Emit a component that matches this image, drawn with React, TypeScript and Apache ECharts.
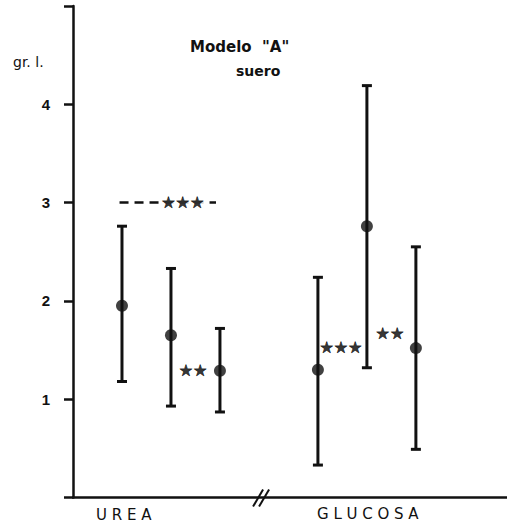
import React, { useEffect, useRef } from "react";
import * as echarts from "echarts";

// ---- data ----
const groups = ["U R E A", "G L U C O S A"];
const xPos = [1, 2, 3, 5, 6, 7];
const means = [1.95, 1.65, 1.29, 1.3, 2.76, 1.52];
const upper = [2.76, 2.33, 1.72, 2.24, 4.19, 2.55];
const lower = [1.18, 0.93, 0.87, 0.33, 1.32, 0.49];
const yTicks = [1, 2, 3, 4];
const sigLine = [[0.95, 3], [2.92, 3]];
const sigMarks = [
  { x: 2.24, y: 3.0, text: "★★★" },
  { x: 2.45, y: 1.29, text: "★★" },
  { x: 5.47, y: 1.53, text: "★★★" },
  { x: 6.47, y: 1.67, text: "★★" },
];
const breakAt = 3.86;

export default function App() {
  const ref = useRef<HTMLDivElement>(null);
  useEffect(() => {
    if (!ref.current) return;
    const chart = echarts.init(ref.current, null, { renderer: "svg" });
    const font = "'DejaVu Sans', 'Liberation Sans', sans-serif";
    const errData = xPos.map((x, i) => [x, lower[i], upper[i]]);
    chart.setOption({
      animation: false,
      backgroundColor: "#fff",
      grid: { left: 73, right: 0, top: 6, bottom: 25.5, containLabel: false },
      xAxis: {
        type: "value",
        min: 0,
        max: 8.86,
        axisLine: { show: true, onZero: false, lineStyle: { color: "#111", width: 2.5 } },
        axisTick: { show: false },
        axisLabel: { show: false },
        splitLine: { show: false },
      },
      yAxis: {
        type: "value",
        min: 0,
        max: 5,
        interval: 1,
        axisLine: { show: true, lineStyle: { color: "#111", width: 2.5 } },
        axisTick: { show: true, inside: false, length: 9, lineStyle: { color: "#111", width: 2.5 } },
        axisLabel: {
          margin: 23,
          color: "#111",
          fontSize: 15,
          fontWeight: "bold",
          fontFamily: "'Liberation Sans', sans-serif",
          formatter: (v: number) => (yTicks.includes(v) ? String(v) : ""),
        },
        splitLine: { show: false },
      },
      series: [
        {
          type: "custom",
          data: errData,
          renderItem: (params: any, api: any) => {
            const x = api.value(0);
            const lo = api.coord([x, api.value(1)]);
            const hi = api.coord([x, api.value(2)]);
            const cw = 5;
            const st = { stroke: "#111", lineWidth: 3 };
            return {
              type: "group",
              children: [
                { type: "line", shape: { x1: hi[0], y1: hi[1], x2: lo[0], y2: lo[1] }, style: st },
                { type: "line", shape: { x1: hi[0] - cw, y1: hi[1], x2: hi[0] + cw, y2: hi[1] }, style: st },
                { type: "line", shape: { x1: lo[0] - cw, y1: lo[1], x2: lo[0] + cw, y2: lo[1] }, style: st },
              ],
            };
          },
          z: 2,
        },
        {
          type: "scatter",
          data: xPos.map((x, i) => [x, means[i]]),
          symbol: "circle",
          symbolSize: 12,
          itemStyle: { color: "#111" },
          z: 3,
        },
        {
          type: "line",
          data: sigLine,
          symbol: "none",
          lineStyle: { color: "#111", width: 2.5, type: [9, 6] },
          z: 2,
        },
        {
          type: "scatter",
          data: sigMarks.map((m, i) => ({
            value: [m.x, m.y],
            name: m.text,
            label: i === 0 ? { backgroundColor: "#fff", padding: [0, 1] } : {},
          })),
          symbolSize: 0,
          label: {
            show: true,
            position: "inside",
            formatter: (p: any) => p.name,
            color: "#000",
            fontSize: 16,
            fontFamily: "'DejaVu Sans', sans-serif",
            textBorderColor: "#000",
            textBorderWidth: 0.6,
          },
          emphasis: { disabled: true },
          z: 4,
        },
        {
          type: "custom",
          data: [[breakAt, 0]],
          renderItem: (params: any, api: any) => {
            const p = api.coord([api.value(0), api.value(1)]);
            const st = { stroke: "#111", lineWidth: 2 };
            return {
              type: "group",
              children: [
                { type: "line", shape: { x1: p[0] - 9, y1: p[1] + 9, x2: p[0] + 1, y2: p[1] - 8 }, style: st },
                { type: "line", shape: { x1: p[0] - 3, y1: p[1] + 9, x2: p[0] + 7, y2: p[1] - 8 }, style: st },
              ],
            };
          },
          z: 5,
        },
      ],
      graphic: [
        { type: "text", left: 13, top: 55, style: { text: "gr. l.", fontSize: 14, fill: "#111", fontFamily: font } },
        { type: "text", left: 190, top: 39, style: { text: "Modelo  \"A\"", fontSize: 15, fontWeight: "bold", fill: "#111", fontFamily: font } },
        { type: "text", left: 236, top: 64, style: { text: "suero", fontSize: 14, fontWeight: "bold", fill: "#111", fontFamily: font } },
        { type: "text", left: 96, top: 507, style: { text: groups[0], fontSize: 15, fill: "#111", fontFamily: font } },
        { type: "text", left: 317, top: 506, style: { text: groups[1], fontSize: 15, fill: "#111", fontFamily: font } },
      ],
    });
    return () => chart.dispose();
  }, []);
  return <div ref={ref} style={{ width: 507, height: 523, position: "absolute", left: 0, top: 0 }} />;
}
